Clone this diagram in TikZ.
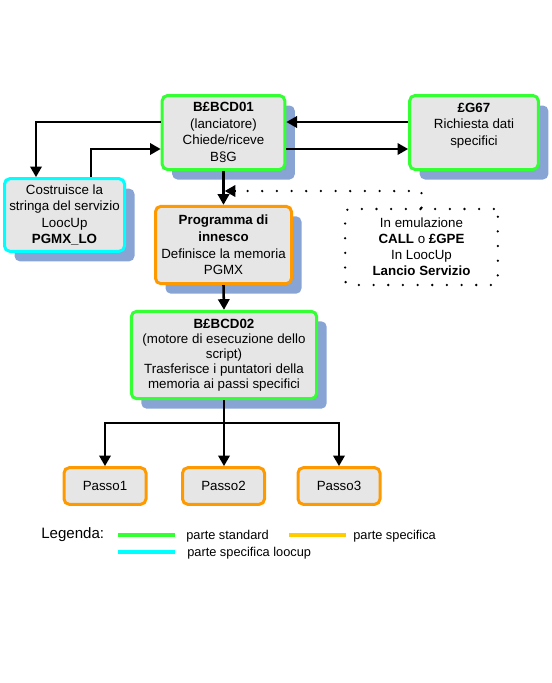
\documentclass[tikz,border=0pt]{standalone}
\usepackage{fontspec}
\setmainfont{Liberation Sans}
\usetikzlibrary{arrows.meta,shadows}
\definecolor{gstd}{RGB}{51,255,51}
\definecolor{ospec}{RGB}{255,153,0}
\definecolor{cloo}{RGB}{0,255,255}
\definecolor{yleg}{RGB}{255,204,0}
\definecolor{boxfill}{RGB}{230,230,230}
\definecolor{shadowc}{RGB}{136,164,212}
\tikzset{
  box/.style={draw, line width=2.25pt, rounded corners=4pt, fill=boxfill, align=center,
    inner sep=2pt, font=\fontsize{10}{12.4}\selectfont,
    drop shadow={shadow xshift=7.5pt, shadow yshift=-7.5pt, fill=shadowc, opacity=1}},
  stdbox/.style={box, draw=gstd},
  specbox/.style={box, draw=ospec},
  loobox/.style={box, draw=cloo},
  passo/.style={draw=ospec, line width=2.25pt, rounded corners=4pt, fill=boxfill,
    font=\fontsize{10}{12}\selectfont, minimum width=61.5pt, minimum height=27.5pt},
  conn/.style={line width=1.9pt, -{Triangle[length=8pt,width=8.5pt]}},
  plain/.style={line width=1.9pt},
  dotline/.style={line width=1.9pt, line cap=round, dash pattern=on 0pt off 11pt},
  legtext/.style={anchor=base west, inner sep=0pt, font=\fontsize{9.6}{11}\selectfont},
}
\begin{document}
\begin{tikzpicture}[x=0.75pt,y=-0.75pt]
\useasboundingbox (0,0) rectangle (551,683);
\node[stdbox, minimum width=92pt, minimum height=55.5pt] (bcd01) at (223.5,132.5)
  {\textbf{B£BCD01}\\(lanciatore)\\Chiede/riceve\\B§G};
\node[stdbox, minimum width=96.5pt, minimum height=55.5pt] (g67) at (474,132.5)
  {\textbf{£G67}\\Richiesta dati\\specifici\\\mbox{}};
\node[loobox, minimum width=90pt, minimum height=54.5pt] (cost) at (64.5,215)
  {Costruisce la\\stringa del servizio\\LoocUp\\\textbf{PGMX\_LO}};
\node[specbox, minimum width=102pt, minimum height=58pt] (prog) at (223.5,245)
  {\textbf{Programma di}\\\textbf{innesco}\\Definisce la memoria\\PGMX};
\node[draw, dotline, rounded corners=3pt, align=center, minimum width=114.5pt, minimum height=57pt,
  font=\fontsize{10}{12}\selectfont] (emul) at (421.5,247)
  {In emulazione\\\textbf{CALL} o \textbf{£GPE}\\In LoocUp\\\textbf{Lancio Servizio}};
\node[stdbox, minimum width=139pt, minimum height=65.5pt, font=\fontsize{10}{11.3}\selectfont] (bcd02) at (224,355)
  {\textbf{B£BCD02}\\(motore di esecuzione dello\\script)\\Trasferisce i puntatori della\\memoria ai passi specifici};
\node[passo] (p1) at (105,486) {Passo1};
\node[passo] (p2) at (223.5,486) {Passo2};
\node[passo] (p3) at (339,486) {Passo3};
% connectors
\draw[conn] (bcd01.west |- 0,122) -| (cost.north -| 36,0);
\draw[conn] (cost.north -| 91,0) |- (bcd01.west |- 0,149);
\draw[conn] (g67.west |- 0,122) -- (bcd01.east |- 0,122);
\draw[conn] (bcd01.east |- 0,149) -- (g67.west |- 0,149);
\draw[conn] (bcd01.south) -- (prog.north);
\draw[conn] (prog.south) -- (bcd02.north);
\coordinate (split) at (bcd02.south |- 0,423);
\draw[plain] (bcd02.south) -- (split);
\draw[conn] (split) -| (p1.north);
\draw[conn] (split) -- (split |- p2.north);
\draw[conn] (split) -| (p3.north);
\coordinate (dt) at (bcd01.south |- 0,191);
\draw[dotline] (emul.north) |- ([xshift=10pt]dt);
\draw[line width=1.9pt, -{Triangle[length=8pt,width=8.5pt]}] ([xshift=8.5pt]dt) -- ([xshift=0.9pt]dt);
% legend
\node[anchor=base west, inner sep=0pt, font=\fontsize{11.3}{13}\selectfont] (leg) at (41,538) {Legenda:};
\draw[gstd, line width=3pt] (118,535) -- (175,535);
\node[legtext] (l1) at (186,539) {parte standard};
\draw[yleg, line width=3pt] (289,535) -- (346,535);
\node[legtext] (l2) at (353,539) {parte specifica};
\draw[cloo, line width=3pt] (118,552) -- (175,552);
\node[legtext] (l3) at (187,556) {parte specifica loocup};
\end{tikzpicture}
\end{document}
